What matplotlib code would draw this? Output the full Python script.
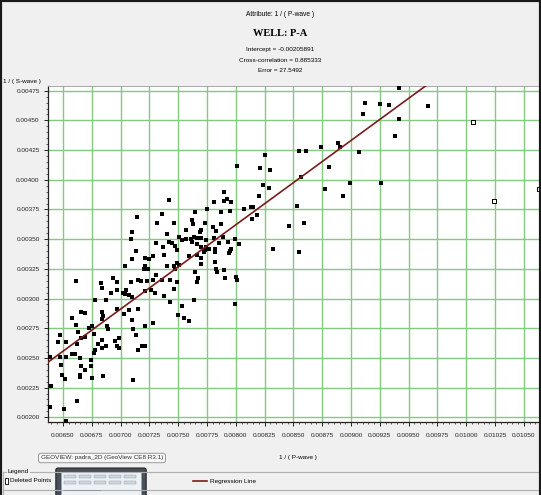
import matplotlib
matplotlib.use("Agg")
import matplotlib.pyplot as plt
from matplotlib.patches import Rectangle, FancyBboxPatch
from matplotlib.lines import Line2D
from matplotlib.ticker import MultipleLocator, AutoMinorLocator, FormatStrFormatter

# ---------- crossplot data: 1/(P-wave) vs 1/(S-wave) ----------
p_wave = [
    0.00710, 0.00709, 0.00732, 0.00713, 0.00710, 0.00704, 0.00661, 0.00683, 0.00684, 0.00693,
    0.00697, 0.00692, 0.00697, 0.00702, 0.00705, 0.00709, 0.00704, 0.00707, 0.00710, 0.00678,
    0.00687, 0.00697, 0.00684, 0.00666, 0.00669, 0.00658, 0.00703, 0.00707, 0.00715, 0.00710,
    0.00684, 0.00685, 0.00661, 0.00673, 0.00675, 0.00677, 0.00688, 0.00689, 0.00680, 0.00684,
    0.00687, 0.00684, 0.00678, 0.00677, 0.00695, 0.00697, 0.00699, 0.00699, 0.00711, 0.00713,
    0.00721, 0.00728, 0.00715, 0.00719, 0.00721, 0.00663, 0.00666, 0.00669, 0.00662, 0.00647,
    0.00646, 0.00653, 0.00647, 0.00653, 0.00658, 0.00660, 0.00639, 0.00648, 0.00649, 0.00652,
    0.00665, 0.00666, 0.00665, 0.00665, 0.00669, 0.00674, 0.00674, 0.00675, 0.00685, 0.00711,
    0.00640, 0.00662, 0.00639, 0.00651, 0.00653, 0.00731, 0.00737, 0.00728, 0.00725, 0.00721,
    0.00721, 0.00724, 0.00720, 0.00723, 0.00718, 0.00728, 0.00731, 0.00736, 0.00726, 0.00730,
    0.00738, 0.00715, 0.00721, 0.00740, 0.00714, 0.00736,
    0.00825, 0.00801, 0.00821, 0.00830, 0.00824, 0.00829, 0.00790, 0.00792, 0.00790, 0.00781,
    0.00796, 0.00742, 0.00820, 0.00807, 0.00813, 0.00815, 0.00795, 0.00787, 0.00775, 0.00765,
    0.00818, 0.00814, 0.00846, 0.00746, 0.00762, 0.00763, 0.00773, 0.00787, 0.00780, 0.00783,
    0.00770, 0.00769, 0.00757, 0.00751, 0.00757, 0.00753, 0.00761, 0.00764, 0.00766, 0.00770,
    0.00762, 0.00774, 0.00781, 0.00789, 0.00793, 0.00799, 0.00803, 0.00742, 0.00745, 0.00747,
    0.00749, 0.00766, 0.00770, 0.00774, 0.00782, 0.00785, 0.00796, 0.00794, 0.00795, 0.00832,
    0.00738, 0.00759, 0.00766, 0.00772, 0.00773, 0.00777, 0.00782, 0.00770, 0.00782, 0.00770,
    0.00746, 0.00740, 0.00749, 0.00751, 0.00747, 0.00765, 0.00767, 0.00766, 0.00783, 0.00784,
    0.00790, 0.00791, 0.00800, 0.00801, 0.00743, 0.00749, 0.00746, 0.00743, 0.00753, 0.00764,
    0.00799, 0.00750, 0.00755, 0.00759,
    0.00942, 0.00912, 0.00925, 0.00933, 0.00910, 0.00942, 0.00938, 0.00889, 0.00890, 0.00874,
    0.00855, 0.00861, 0.00907, 0.00881, 0.00857, 0.00899, 0.00926, 0.00877, 0.00893, 0.00853,
    0.00859, 0.00855, 0.00967,
]
s_wave = [
    0.00356, 0.00350, 0.00364, 0.00340, 0.00333, 0.00327, 0.00315, 0.00313, 0.00309, 0.00317,
    0.00314, 0.00305, 0.00307, 0.00305, 0.00307, 0.00314, 0.00304, 0.00303, 0.00301, 0.00299,
    0.00299, 0.00291, 0.00289, 0.00289, 0.00288, 0.00284, 0.00287, 0.00290, 0.00291, 0.00282,
    0.00283, 0.00285, 0.00278, 0.00275, 0.00277, 0.00270, 0.00277, 0.00274, 0.00262, 0.00265,
    0.00260, 0.00258, 0.00257, 0.00254, 0.00264, 0.00260, 0.00258, 0.00267, 0.00274, 0.00269,
    0.00277, 0.00279, 0.00257, 0.00260, 0.00260, 0.00272, 0.00267, 0.00268, 0.00262, 0.00269,
    0.00263, 0.00263, 0.00251, 0.00251, 0.00253, 0.00253, 0.00251, 0.00244, 0.00236, 0.00232,
    0.00250, 0.00243, 0.00236, 0.00234, 0.00240, 0.00248, 0.00243, 0.00233, 0.00235, 0.00231,
    0.00226, 0.00214, 0.00209, 0.00207, 0.00197, 0.00347, 0.00343, 0.00336, 0.00333, 0.00334,
    0.00327, 0.00325, 0.00325, 0.00315, 0.00315, 0.00316, 0.00320, 0.00316, 0.00307, 0.00305,
    0.00302, 0.00316, 0.00306, 0.00354, 0.00369, 0.00371,
    0.00421, 0.00412, 0.00410, 0.00408, 0.00396, 0.00393, 0.00390, 0.00384, 0.00382, 0.00381,
    0.00381, 0.00383, 0.00386, 0.00375, 0.00377, 0.00377, 0.00374, 0.00373, 0.00375, 0.00373,
    0.00370, 0.00367, 0.00361, 0.00364, 0.00366, 0.00363, 0.00364, 0.00363, 0.00360, 0.00357,
    0.00358, 0.00356, 0.00358, 0.00352, 0.00350, 0.00349, 0.00350, 0.00352, 0.00351, 0.00351,
    0.00348, 0.00349, 0.00351, 0.00352, 0.00348, 0.00350, 0.00346, 0.00348, 0.00347, 0.00344,
    0.00341, 0.00346, 0.00343, 0.00343, 0.00342, 0.00347, 0.00342, 0.00338, 0.00340, 0.00342,
    0.00337, 0.00336, 0.00337, 0.00339, 0.00341, 0.00342, 0.00339, 0.00334, 0.00331, 0.00329,
    0.00327, 0.00327, 0.00330, 0.00328, 0.00325, 0.00322, 0.00317, 0.00314, 0.00325, 0.00322,
    0.00324, 0.00317, 0.00318, 0.00316, 0.00316, 0.00314, 0.00308, 0.00297, 0.00294, 0.00299,
    0.00295, 0.00286, 0.00284, 0.00281,
    0.00477, 0.00465, 0.00464, 0.00463, 0.00455, 0.00451, 0.00437, 0.00431, 0.00428, 0.00428,
    0.00424, 0.00424, 0.00423, 0.00411, 0.00402, 0.00397, 0.00397, 0.00392, 0.00386, 0.00378,
    0.00364, 0.00339, 0.00462,
]

# points removed from the fit
deleted_p = [0.01006, 0.01024, 0.01063]
deleted_s = [0.00449, 0.00382, 0.00392]

intercept = -0.00205891
slope = 0.7100
cross_corr = 0.885333
error = 27.5492

x_min, x_max = 0.00637, 0.01064
y_min, y_max = 0.00196, 0.00479

W, H = 541, 495
fig = plt.figure(figsize=(W / 100, H / 100), dpi=100, facecolor="#f0f0f0")
plt.rcParams["font.family"] = ["Liberation Sans", "DejaVu Sans"]

ax = fig.add_axes([48 / W, 1 - 422 / H, 492 / W, 336 / H])
ax.set_facecolor("white")

ax.scatter(p_wave, s_wave, marker="s", s=12, c="black", linewidths=0, zorder=3)
ax.scatter(deleted_p, deleted_s, marker="s", s=10, facecolors="white",
           edgecolors="black", linewidths=0.7, zorder=3)

# regression line over the full x range
xs = [x_min, x_max]
ax.plot(xs, [intercept + slope * x for x in xs], color="#7b1c1c", lw=1.2, zorder=4)

ax.set_xlim(x_min, x_max)
ax.set_ylim(y_min, y_max)
ax.xaxis.set_major_locator(MultipleLocator(0.00025))
ax.yaxis.set_major_locator(MultipleLocator(0.00025))
ax.xaxis.set_minor_locator(AutoMinorLocator(5))
ax.yaxis.set_minor_locator(AutoMinorLocator(5))
ax.xaxis.set_major_formatter(FormatStrFormatter("%.5f"))
ax.yaxis.set_major_formatter(FormatStrFormatter("%.5f"))
ax.grid(True, which="major", color="#84c984", lw=1.0, zorder=1)
ax.tick_params(which="major", direction="out", length=3, width=0.7, labelsize=4.6,
               colors="#222222", pad=3)
ax.tick_params(which="minor", direction="out", length=1.6, width=0.5, colors="#222222")
ax.tick_params(axis="x", pad=5)
for side in ("left", "bottom"):
    ax.spines[side].set_color("#222222")
    ax.spines[side].set_linewidth(0.9)
for side in ("top", "right"):
    ax.spines[side].set_color("#9a9a9a")
    ax.spines[side].set_linewidth(0.6)

# header text
fig.text(280 / W, 1 - 15 / H, "Attribute: 1 / ( P-wave )", ha="center", va="center", fontsize=4.8)
fig.text(280 / W, 1 - 33 / H, "WELL: P-A", ha="center", va="center", fontsize=7.5,
         fontweight="bold", family="Liberation Serif")
fig.text(280 / W, 1 - 49 / H, f"Intercept = {intercept}", ha="center", va="center", fontsize=4.6)
fig.text(280 / W, 1 - 60 / H, f"Cross-correlation = {cross_corr}", ha="center", va="center", fontsize=4.6)
fig.text(280 / W, 1 - 70 / H, f"Error = {error}", ha="center", va="center", fontsize=4.6)
fig.text(3 / W, 1 - 81 / H, "1 / ( S-wave )", ha="left", va="center", fontsize=4.6)
fig.text(298 / W, 1 - 458 / H, "1 / ( P-wave )", ha="center", va="center", fontsize=4.6)

# window tooltip
fig.text(102 / W, 1 - 458 / H, "GEOVIEW: padra_2D (GeoView CE8 R3.1)", ha="center", va="center",
         fontsize=4.6, color="#333333",
         bbox=dict(boxstyle="round,pad=0.35", fc="#f7f7f7", ec="#8a8a8a", lw=0.6))

# legend group box
for yy in (472, 490):
    fig.add_artist(Line2D([3 / W, 1], [1 - yy / H, 1 - yy / H], color="#b0b0b0", lw=0.8))
fig.add_artist(Line2D([3 / W, 3 / W], [1 - 472 / H, 0], color="#b0b0b0", lw=0.8))
fig.text(8 / W, 1 - 472 / H, "Legend", ha="left", va="center", fontsize=4.6,
         bbox=dict(boxstyle="square,pad=0.1", fc="#f0f0f0", ec="none"))
fig.add_artist(Rectangle((5 / W, 1 - 484 / H), 3 / W, 6 / H, fc="white", ec="black", lw=0.6))
fig.text(10 / W, 1 - 481 / H, "Deleted Points", ha="left", va="center", fontsize=4.6)
fig.add_artist(Line2D([193 / W, 207 / W], [1 - 481 / H, 1 - 481 / H], color="#7b1c1c", lw=1.2))
fig.text(210 / W, 1 - 481 / H, "Regression Line", ha="left", va="center", fontsize=4.6)

# taskbar thumbnail popup
fig.add_artist(FancyBboxPatch((58 / W, 1 - 497 / H), 86 / W, 27 / H,
                              boxstyle="round,pad=0.004", fc="#4a505a", ec="#222222", lw=0.8))
fig.add_artist(Rectangle((61 / W, 1 - 495 / H), 80 / W, 23 / H, fc="#eef2f6", ec="#9aa6b2", lw=0.5))
for row, yy in enumerate((478, 484)):
    for k in range(5):
        fig.add_artist(Rectangle(((64 + k * 15) / W, 1 - yy / H), 12 / W, 3 / H,
                                 fc="#d2d8de", ec="#8894a0", lw=0.3))
fig.add_artist(Line2D([64 / W, 100 / W], [1 - 490 / H, 1 - 490 / H], color="#8894a0", lw=0.6))

# screenshot frame
for xs_, ys_ in (([0, 0], [0, 1]), ([0, 1], [1, 1]), ([1, 1], [0, 1])):
    fig.add_artist(Line2D(xs_, ys_, color="#1a1a1a", lw=3))

fig.savefig("out.png", dpi=100, facecolor=fig.get_facecolor())
